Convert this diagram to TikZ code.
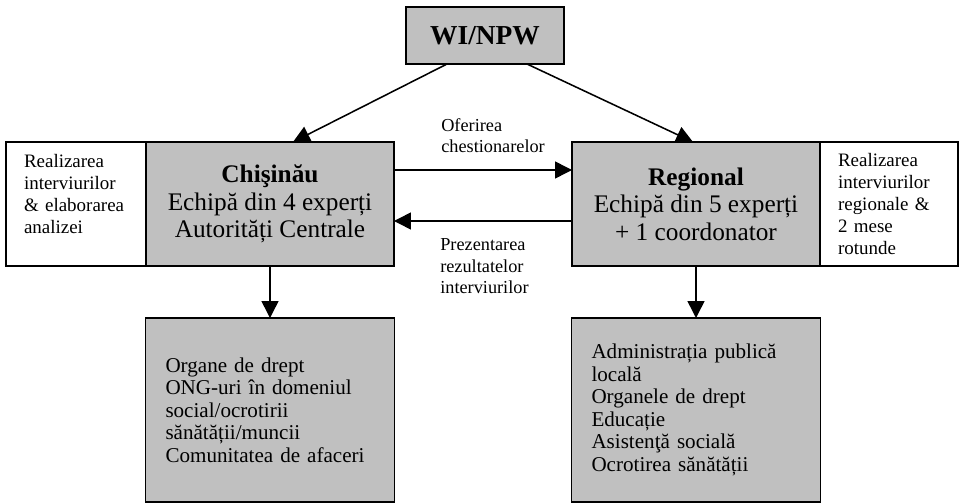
\documentclass[tikz,border=0pt]{standalone}
\usepackage{fontspec}
\setmainfont{Liberation Serif}
\usetikzlibrary{positioning}
\usetikzlibrary{arrows.meta}

\definecolor{boxgrey}{RGB}{192,192,192}

\begin{document}
\begin{tikzpicture}[
  box/.style={draw=black,line width=1.3pt,inner sep=0pt,outer sep=0pt},
  teambox/.style={box,fill=boxgrey,minimum width=6.2cm,minimum height=3.1cm,align=center,font=\fontsize{18}{19.5}\selectfont},
  notebox/.style={box,fill=white,minimum height=3.1cm,inner xsep=0.45cm,align=left,font=\fontsize{13.5}{15.6}\selectfont},
  listbox/.style={box,fill=boxgrey,minimum width=6.225cm,minimum height=4.6cm,text width=5.225cm,inner xsep=0.5cm,align=left,font=\fontsize{15}{16}\selectfont},
  flowtext/.style={inner sep=0pt,align=left,anchor=north west,font=\fontsize{13}{15.5}\selectfont},
  flow/.style={line width=1.1pt,-{Triangle[length=12pt,width=12pt]}}
]
\useasboundingbox (0,0) rectangle (23.975,12.575);

\node[box,fill=boxgrey,minimum width=3.95cm,minimum height=1.425cm,font=\fontsize{19.5}{22}\selectfont\bfseries] (wi) at (12.125,11.6875) {WI/NPW};

\node[teambox] (chis) at (6.75,7.475) {\textbf{Chişinău}\\Echipă din 4 experți\\Autorități Centrale};
\node[teambox] (reg) at (17.4,7.475) {\textbf{Regional}\\Echipă din 5 experți\\+ 1 coordonator};

\node[notebox,text width=2.6cm,left=0pt of chis] (noteleft) {Realizarea\\interviurilor\\\& elaborarea\\analizei\\[-1.6pt]\mbox{}};
\node[notebox,text width=2.55cm,right=0pt of reg] (noteright) {Realizarea\\interviurilor\\regionale \&\\2 mese\\rotunde};

\node[listbox,below=1.3cm of chis] (listleft) {Organe de drept\\ONG-uri în domeniul\\social/ocrotirii\\sănătății/muncii\\Comunitatea de afaceri\\[6pt]};
\node[listbox,below=1.3cm of reg] (listright) {\mbox{}\\[-5.6pt]Administrația publică\\locală\\Organele de drept\\Educație\\Asistenţă socială\\Ocrotirea sănătății};

\draw[flow] ([xshift=-0.95cm]wi.south) -- ([xshift=0.575cm]chis.north);
\draw[flow] ([xshift=1.05cm]wi.south) -- ([xshift=-0.075cm]reg.north);
\draw[flow] ([yshift=0.85cm]chis.east) -- ([yshift=0.85cm]reg.west);
\draw[flow] ([yshift=-0.425cm]reg.west) -- ([yshift=-0.425cm]chis.east);
\draw[flow] (chis.south) -- (listleft.north);
\draw[flow] (reg.south) -- (listright.north);

\node[flowtext] (offer) at (11.025,9.625) {Oferirea\\chestionarelor};
\node[flowtext] (results) at (11.0,6.625) {Prezentarea\\rezultatelor\\interviurilor};

\end{tikzpicture}
\end{document}
